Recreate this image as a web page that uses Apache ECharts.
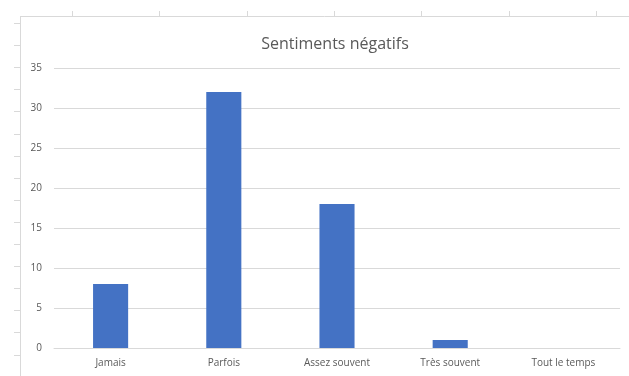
<!DOCTYPE html>
<html>
<head>
<meta charset="utf-8">
<script src="https://cdn.jsdelivr.net/npm/echarts@6/dist/echarts.min.js"></script>
<style>
  html, body { margin: 0; padding: 0; background: #fff; }
  #chart { width: 629px; height: 376px; }
</style>
</head>
<body>
<div id="chart"></div>
<script>
// Réponses au questionnaire : fréquence des sentiments négatifs
const categories = ['Jamais', 'Parfois', 'Assez souvent', 'Très souvent', 'Tout le temps'];
const counts = [8, 32, 18, 1, 0];
const chartTitle = 'Sentiments négatifs';
const yMin = 0;
const yMax = 35;
const yStep = 5;

const FONT = '"Liberation Sans Narrow", "Open Sans", sans-serif';
const GREY_TEXT = '#595959';
const GREY_LINE = '#d9d9d9';

const chart = echarts.init(document.getElementById('chart'), null, { renderer: 'canvas' });

// Quadrillage de feuille de calcul autour du graphique
const sheetLines = [];
sheetLines.push({ type: 'line', shape: { x1: 20, y1: 16.5, x2: 629, y2: 16.5 }, style: { stroke: GREY_LINE, lineWidth: 1 } });
sheetLines.push({ type: 'line', shape: { x1: 20.5, y1: 16, x2: 20.5, y2: 376 }, style: { stroke: GREY_LINE, lineWidth: 1 } });
for (let x = 72; x < 629; x += 87.3) {
  const xx = Math.round(x) + 0.5;
  sheetLines.push({ type: 'line', shape: { x1: xx, y1: 11, x2: xx, y2: 16 }, style: { stroke: GREY_LINE, lineWidth: 1 } });
}
for (let y = 23; y < 376; y += 22.1) {
  const yy = Math.round(y) + 0.5;
  sheetLines.push({ type: 'line', shape: { x1: 14, y1: yy, x2: 20, y2: yy }, style: { stroke: GREY_LINE, lineWidth: 1 } });
}

chart.setOption({
  animation: false,
  backgroundColor: '#ffffff',
  title: {
    text: chartTitle,
    left: 330,
    textAlign: 'center',
    top: 31,
    textStyle: { fontFamily: FONT, fontSize: 16, fontWeight: 'normal', color: GREY_TEXT }
  },
  grid: { left: 54, right: 9, top: 68, bottom: 28, containLabel: false },
  xAxis: {
    type: 'category',
    data: categories,
    axisLine: { lineStyle: { color: GREY_LINE, width: 1 } },
    axisTick: { show: false },
    axisLabel: { color: GREY_TEXT, fontFamily: FONT, fontSize: 10, margin: 10 }
  },
  yAxis: {
    type: 'value',
    min: yMin,
    max: yMax,
    interval: yStep,
    axisLine: { show: false },
    axisTick: { show: false },
    splitLine: { lineStyle: { color: GREY_LINE, width: 1 } },
    axisLabel: { color: GREY_TEXT, fontFamily: FONT, fontSize: 10, margin: 12 }
  },
  series: [{
    type: 'bar',
    data: counts,
    barWidth: '31%',
    itemStyle: { color: '#4472c4' }
  }],
  graphic: sheetLines
});
</script>
</body>
</html>
